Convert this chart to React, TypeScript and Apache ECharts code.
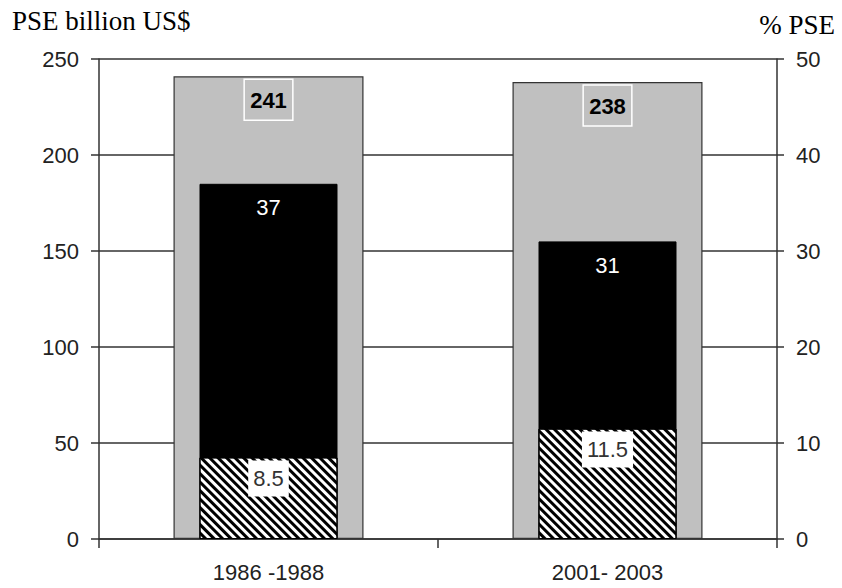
import React, { useEffect, useRef } from "react";
import * as echarts from "echarts";

const categories = ["1986 -1988", "2001- 2003"];
const pseBillion = [241, 238];
const psePercent = [37, 31];
const hatchedPercent = [8.5, 11.5];
const leftTitle = "PSE billion US$";
const rightTitle = "% PSE";

const AXIS_COLOR = "#333333";
const FONT = "'Liberation Sans', Arial, sans-serif";
const SERIF = "'Liberation Serif', 'Times New Roman', serif";

export default function App() {
  const ref = useRef<HTMLDivElement>(null);
  useEffect(() => {
    if (!ref.current) return;
    const chart = echarts.init(ref.current, null, { renderer: "svg" });
    const option: any = {
      animation: false,
      backgroundColor: "#ffffff",
      grid: { left: 99, right: 65, top: 59, bottom: 49, containLabel: false },
      graphic: [
        {
          type: "text",
          left: 12,
          top: 7,
          style: { text: leftTitle, font: `27px ${SERIF}`, fill: "#000" },
        },
        {
          type: "text",
          right: 7,
          top: 11,
          style: { text: rightTitle, font: `27px ${SERIF}`, fill: "#000" },
        },
      ],
      xAxis: [
        {
          type: "category",
          data: categories,
          position: "bottom",
          boundaryGap: true,
          axisLine: { show: true, lineStyle: { color: AXIS_COLOR, width: 1.5 } },
          axisTick: { show: true, length: 9, lineStyle: { color: AXIS_COLOR, width: 1.5 } },
          axisLabel: { color: "#222", fontSize: 22, fontFamily: FONT, margin: 22 },
        },
        {
          type: "category",
          data: categories,
          show: false,
          boundaryGap: true,
        },
      ],
      yAxis: [
        {
          type: "value",
          min: 0,
          max: 250,
          interval: 50,
          position: "left",
          axisLine: { show: true, lineStyle: { color: AXIS_COLOR, width: 1.5 } },
          axisTick: { show: true, length: 8, lineStyle: { color: AXIS_COLOR, width: 1.5 } },
          axisLabel: { color: "#222", fontSize: 22, fontFamily: FONT, margin: 20 },
          splitLine: { show: true, lineStyle: { color: AXIS_COLOR, width: 1.5 } },
        },
        {
          type: "value",
          min: 0,
          max: 50,
          interval: 10,
          position: "right",
          axisLine: { show: true, lineStyle: { color: AXIS_COLOR, width: 1.5 } },
          axisTick: { show: true, length: 7, lineStyle: { color: AXIS_COLOR, width: 1.5 } },
          axisLabel: { color: "#222", fontSize: 22, fontFamily: FONT, margin: 19 },
          splitLine: { show: false },
        },
      ],
      series: [
        {
          type: "bar",
          name: "PSE billion US$",
          xAxisIndex: 0,
          yAxisIndex: 0,
          data: pseBillion,
          barWidth: 190,
          itemStyle: { color: "#c0c0c0", borderColor: "#333", borderWidth: 1.2 },
          label: {
            show: true,
            position: "insideTop",
            distance: 3,
            color: "#000",
            fontSize: 22,
            fontWeight: "bold",
            fontFamily: FONT,
            borderColor: "#ffffff",
            borderWidth: 1.5,
            padding: [10, 6, 9, 6],
          },
        },
        {
          type: "bar",
          name: "% PSE",
          xAxisIndex: 1,
          yAxisIndex: 1,
          data: psePercent,
          barWidth: 138,
          barGap: "-100%",
          itemStyle: { color: "#000000", borderColor: "#000", borderWidth: 1 },
          label: {
            show: true,
            position: "insideTop",
            distance: 3,
            color: "#ffffff",
            fontSize: 22,
            fontFamily: FONT,
            padding: [10, 6, 9, 6],
          },
        },
        {
          type: "bar",
          name: "hatched",
          xAxisIndex: 1,
          yAxisIndex: 1,
          data: hatchedPercent,
          barWidth: 138,
          barGap: "-100%",
          itemStyle: {
            color: "#ffffff",
            borderColor: "#000",
            borderWidth: 1,
            decal: {
              symbol: "rect",
              symbolSize: 1,
              dashArrayX: [1, 0],
              dashArrayY: [2.4, 2.2],
              rotation: Math.PI / 4,
              color: "#000000",
              backgroundColor: "#ffffff",
            },
          },
          label: {
            show: true,
            position: "insideTop",
            distance: 3,
            color: "#333",
            fontSize: 22,
            fontFamily: FONT,
            backgroundColor: "#ffffff",
            padding: [7, 5, 7, 5],
          },
        },
      ],
    };
    chart.setOption(option);
    return () => chart.dispose();
  }, []);
  return (
    <div
      ref={ref}
      style={{ position: "absolute", left: 0, top: 0, width: 842, height: 588 }}
    />
  );
}
